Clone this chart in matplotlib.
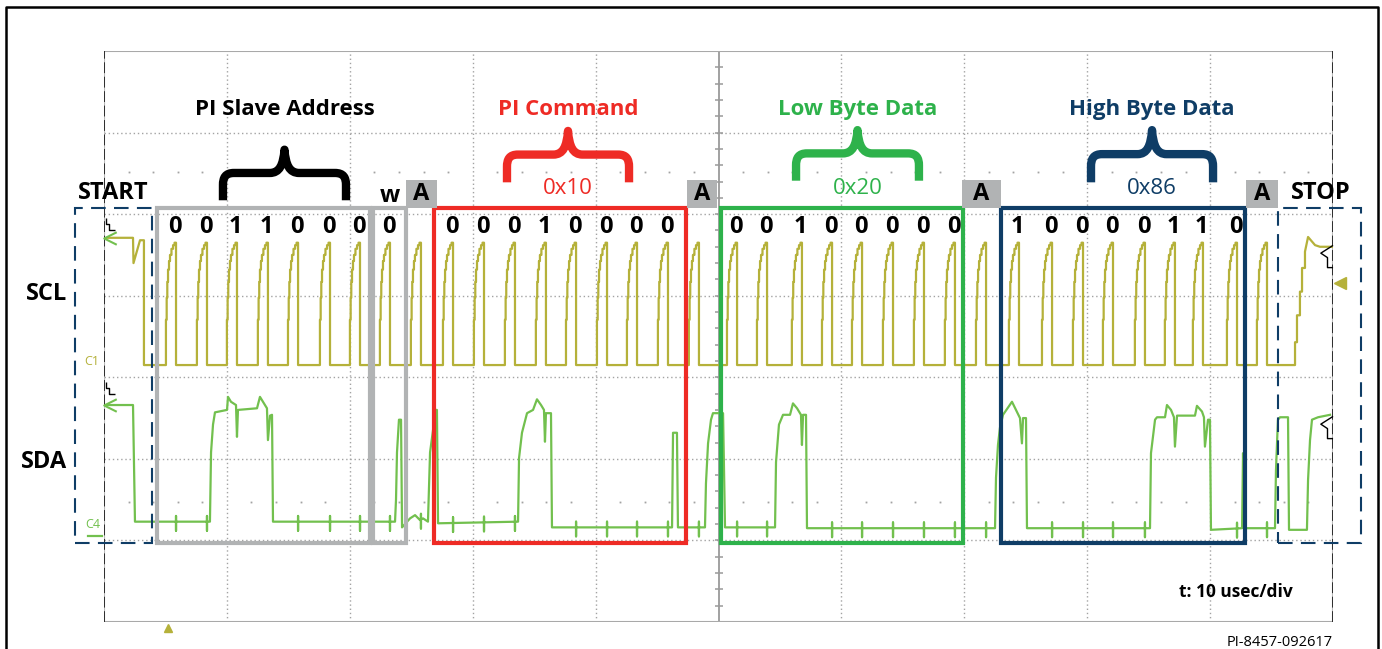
import matplotlib
matplotlib.use("Agg")
import matplotlib.pyplot as plt
import numpy as np
from matplotlib.lines import Line2D
from matplotlib.patches import PathPatch, Rectangle
from matplotlib.path import Path

plt.rcParams["font.family"] = ["Open Sans", "DejaVu Sans"]

# ---------------- data: time in usec (10 usec/div), level in screen divisions ----------------
# SCL falling edges, one per clock (7 addr + W + ACK, then 3 x (8 bits + ACK))
scl_fall_us = [5.86, 8.38, 10.82, 13.34, 15.79, 18.39, 20.83, 23.27, 25.79,
               28.40, 30.92, 33.44, 35.96, 38.41, 40.93, 43.37, 45.89, 48.41,
               51.51, 53.95, 56.79, 59.24, 61.68, 64.20, 66.72, 69.24, 71.77,
               74.45, 77.14, 79.66, 82.10, 84.70, 87.14, 89.42, 92.19, 94.63]
scl_low = 3.15
scl_high = 4.65
# RC staircase of a clock rising edge, relative to its falling edge
pulse_dt = [-0.82, -0.76, -0.71, -0.65, -0.57, -0.49, -0.37, -0.24, -0.12, 0.0]
pulse_frac = [0.37, 0.55, 0.68, 0.78, 0.85, 0.90, 0.95, 0.98, 1.0, 1.0]
# SCL before START and after STOP
scl_head_t = [0.24, 2.36, 2.40, 2.93, 3.17, 3.25, 3.25]
scl_head_v = [4.71, 4.71, 4.40, 4.68, 4.68, 4.68, 3.15]
scl_tail_t = [96.91, 96.91, 97.07, 97.07, 97.31, 97.31, 97.48, 97.48, 97.72, 97.72, 97.97, 98.54, 98.94, 99.92]
scl_tail_v = [3.15, 3.43, 3.43, 3.76, 3.76, 4.05, 4.05, 4.34, 4.34, 4.54, 4.72, 4.62, 4.60, 4.60]

# SDA trace
sda_t = [0.24, 2.36, 2.52,
         8.62, 8.71, 8.87, 9.03, 10.01, 10.09, 10.33, 10.74, 10.82, 10.90, 12.45, 12.69, 13.10, 13.26, 13.34, 13.51, 13.67, 13.75,
         23.68, 23.76, 23.84, 24.00, 24.17, 24.25, 24.90, 25.31, 25.71, 25.96, 26.36, 26.53, 26.77, 27.01, 27.09, 27.18,
         33.69, 33.77, 34.01, 34.42, 34.91, 35.23, 35.56, 35.80, 35.88, 35.96, 36.37, 36.45,
         46.22, 46.30, 46.62, 46.70,
         48.90, 48.98, 49.15, 49.39, 49.55, 50.37, 50.53,
         54.60, 54.68, 54.92, 55.25, 55.82, 56.06, 56.39, 56.71, 56.79, 56.88, 57.12, 57.20,
         72.50, 72.58, 72.74, 72.90, 73.15, 73.88, 74.21, 74.53, 74.69, 74.78, 75.02, 75.10,
         85.11, 85.19, 85.52, 85.68, 86.33, 86.49, 86.82, 87.06, 87.14, 87.31, 88.77, 88.93, 89.34, 89.50, 89.58, 89.83, 89.99, 90.07,
         92.60, 92.68, 92.76,
         95.28, 95.36, 95.52, 95.69, 96.34, 96.42, 97.88, 97.97, 98.13, 98.29, 98.78, 99.76]
sda_v = [2.66, 2.66, 1.23,
         1.23, 2.08, 2.42, 2.57, 2.60, 2.76, 2.70, 2.66, 2.27, 2.60, 2.62, 2.76, 2.66, 2.62, 2.23, 2.53, 2.54, 1.23,
         1.23, 1.50, 2.08, 2.48, 2.48, 1.16, 1.27, 1.31, 1.25, 1.27, 1.23, 2.08, 2.35, 2.60, 2.60, 1.21,
         1.23, 2.01, 2.32, 2.56, 2.60, 2.73, 2.66, 2.60, 2.21, 2.56, 2.56, 1.16,
         1.16, 2.32, 2.32, 1.16,
         1.16, 1.70, 2.19, 2.48, 2.56, 2.56, 1.16,
         1.16, 1.96, 2.42, 2.54, 2.54, 2.68, 2.62, 2.54, 2.17, 2.54, 2.54, 1.15,
         1.15, 1.77, 2.17, 2.38, 2.54, 2.70, 2.60, 2.50, 2.19, 2.50, 2.50, 1.15,
         1.15, 2.07, 2.48, 2.51, 2.51, 2.66, 2.60, 2.51, 2.15, 2.53, 2.53, 2.65, 2.58, 2.51, 2.15, 2.48, 2.48, 1.13,
         1.15, 2.07, 1.15,
         1.15, 1.86, 2.48, 2.51, 2.51, 1.13, 1.13, 1.74, 2.23, 2.48, 2.51, 2.54]

# decoded bits
bit_groups = ["0011000", "0", "00010000", "00100000", "10000110"]
bit_first_clock = [0, 7, 9, 18, 27]

# frames around the fields
frame_t0 = [4.31, 21.89, 26.85, 50.20, 72.99]
frame_t1 = [21.64, 24.57, 47.36, 69.89, 92.84]
frame_colors = ["#b1b3b4", "#b1b3b4", "#ee2b25", "#2eb24b", "#0f3d66"]
frame_bottom, frame_top = 0.97, 5.08

ack_t0 = [24.57, 47.44, 69.81, 92.92]
ack_t1 = [27.09, 49.88, 72.99, 95.52]

start_box = (-2.36, 3.91)
stop_box = (95.52, 102.28)

headers = ["PI Slave Address", "PI Command", "Low Byte Data", "High Byte Data"]
header_colors = ["#000000", "#ee2b25", "#2eb24b", "#0f3d66"]
hex_values = ["", "0x10", "0x20", "0x86"]
brace_t0 = [9.68, 32.79, 56.31, 80.31]
brace_t1 = [19.69, 42.72, 66.31, 90.24]
brace_apex = [5.79, 6.02, 6.03, 6.03]
brace_end = [5.17, 5.39, 5.41, 5.39]

SCL_COLOR = "#b5b13a"
SDA_COLOR = "#72c04e"
GRID = "#a3a3a3"

fig = plt.figure(figsize=(13.82, 6.49), dpi=100)
ax = fig.add_axes([104 / 1382, 27 / 649, 1229 / 1382, 571 / 649])
ax.set_xlim(0, 100)
ax.set_ylim(0, 7)
ax.axis("off")

# ---------------- scope graticule ----------------
for t in range(10, 100, 10):
    if t != 50:
        ax.axvline(t, color=GRID, lw=1, ls=(0, (1, 2)), zorder=1)
for v in range(1, 7):
    ax.axhline(v, color=GRID, lw=1, ls=(0, (1, 2)), zorder=1)
minor_t = [t for t in np.arange(2, 100, 2) if t % 10 != 0]
for v in (1.47, 5.52):
    ax.plot(minor_t, [v] * len(minor_t), ls="none", marker="s", ms=1.3, color=GRID, mew=0, zorder=1)
ax.axvline(50, color="#9a9a9a", lw=1.3, zorder=1)
ticks_v = np.arange(0.2, 7, 0.2)
ax.plot([50] * len(ticks_v), ticks_v, ls="none", marker="_", ms=6, mew=1.1, color="#9a9a9a", zorder=1)
ax.axhline(7, color="#a9a9a9", lw=1.5, zorder=1)
ax.axhline(0, color="#a9a9a9", lw=1.5, zorder=1)
for t in (0, 100):
    ax.axvline(t, color="#b9b9b9", lw=1.5, zorder=1)
    ax.axvline(t, color="#222222", lw=1.3, ls=(0, (6, 2)), zorder=2)

# ---------------- SCL trace ----------------
scl_t = list(scl_head_t)
scl_v = list(scl_head_v)
for tf in scl_fall_us:
    prev = 0.0
    for dt, fr in zip(pulse_dt, pulse_frac):
        scl_t += [tf + dt, tf + dt]
        scl_v += [scl_low + prev * (scl_high - scl_low), scl_low + fr * (scl_high - scl_low)]
        prev = fr
    scl_t.append(tf)
    scl_v.append(scl_low)
scl_t += scl_tail_t
scl_v += scl_tail_v
ax.plot(scl_t, scl_v, color=SCL_COLOR, lw=1.6, zorder=3)

# ---------------- SDA trace (with clock crosstalk spikes) ----------------
st = list(sda_t)
sv = list(sda_v)
for tf in scl_fall_us:
    base = np.interp(tf, sda_t, sda_v)
    if base < 1.4:
        st += [tf, tf, tf, tf]
        sv += [base, base + 0.07, base - 0.11, base]
order = np.argsort(st, kind="stable")
ax.plot(np.array(st)[order], np.array(sv)[order], color=SDA_COLOR, lw=1.6, zorder=3)

# ---------------- frames ----------------
for t0, t1, c in zip(frame_t0, frame_t1, frame_colors):
    ax.add_patch(Rectangle((t0, frame_bottom), t1 - t0, frame_top - frame_bottom, fill=False,
                           ec=c, lw=3, joinstyle="miter", zorder=5, clip_on=False))
for t0, t1 in (start_box, stop_box):
    ax.add_patch(Rectangle((t0, frame_bottom), t1 - t0, frame_top - frame_bottom, fill=False,
                           ec="#0f3d66", lw=1.5, ls=(0, (7, 4)), zorder=5, clip_on=False))
for t0, t1 in zip(ack_t0, ack_t1):
    ax.add_patch(Rectangle((t0, frame_top), t1 - t0, 0.34, fc="#b1b3b4", ec="none", zorder=5, clip_on=False))
    ax.text((t0 + t1) / 2, frame_top + 0.17, "A", ha="center", va="center", fontsize=17,
            fontweight="bold", color="black", zorder=6)

# ---------------- bit labels ----------------
for bits, first in zip(bit_groups, bit_first_clock):
    for i, b in enumerate(bits):
        ax.text(scl_fall_us[first + i] - 0.1, 4.84, b, ha="center", va="center", fontsize=17,
                fontweight="bold", color="black", zorder=6)
ax.text(scl_fall_us[7], 5.22, "w", ha="center", va="center", fontsize=17, fontweight="bold", zorder=6)


# ---------------- braces and headers ----------------
def brace(t0, t1, v_end, v_apex, color):
    u = [0, 0, 0, 0.02, 0.09, 0.38, 0.46, 0.49, 0.5, 0.51, 0.54, 0.62, 0.91, 0.98, 1, 1, 1]
    w = [0, 0.3, 0.45, 0.54, 0.54, 0.54, 0.54, 0.7, 1.0, 0.7, 0.54, 0.54, 0.54, 0.54, 0.45, 0.3, 0]
    codes = [Path.MOVETO, Path.LINETO, Path.CURVE4, Path.CURVE4, Path.CURVE4, Path.LINETO,
             Path.CURVE4, Path.CURVE4, Path.CURVE4, Path.CURVE4, Path.CURVE4, Path.CURVE4,
             Path.LINETO, Path.CURVE4, Path.CURVE4, Path.CURVE4, Path.LINETO]
    verts = [(t0 + a * (t1 - t0), v_end + b * (v_apex - v_end)) for a, b in zip(u, w)]
    ax.add_patch(PathPatch(Path(verts, codes), fill=False, ec=color, lw=6,
                           capstyle="butt", joinstyle="round", zorder=6))


for name, c, hx, t0, t1, va, ve in zip(headers, header_colors, hex_values, brace_t0, brace_t1,
                                        brace_apex, brace_end):
    tc = (t0 + t1) / 2
    brace(t0, t1, ve, va, c)
    ax.text(tc, 6.28, name, ha="center", va="center", fontsize=16, fontweight="bold", color=c, zorder=6)
    if hx:
        ax.text(tc, 5.32, hx, ha="center", va="center", fontsize=16, color=c, zorder=6)

# ---------------- side labels ----------------
ax.text(0.73, 5.26, "START", ha="center", va="center", fontsize=17, fontweight="bold", clip_on=False, zorder=6)
ax.text(99.02, 5.26, "STOP", ha="center", va="center", fontsize=17, fontweight="bold", clip_on=False, zorder=6)
ax.text(-4.64, 4.02, "SCL", ha="center", va="center", fontsize=17, fontweight="bold", clip_on=False)
ax.text(-4.88, 1.96, "SDA", ha="center", va="center", fontsize=17, fontweight="bold", clip_on=False)
ax.text(-0.98, 3.19, "C1", ha="center", va="center", fontsize=9, color=SCL_COLOR, clip_on=False)
ax.text(-0.9, 1.19, "C4", ha="center", va="center", fontsize=9, color=SDA_COLOR, clip_on=False)
ax.plot([-1.3, -0.16], [1.05, 1.05], color=SDA_COLOR, lw=1.6, clip_on=False)
ax.text(92.1, 0.37, "t: 10 usec/div", ha="center", va="center", fontsize=12.5, fontweight="bold")
ax.text(100, -0.25, "PI-8457-092617", ha="right", va="center", fontsize=10.5, clip_on=False)

# ---------------- scope markers ----------------
ax.plot([5.21], [-0.07], marker="^", ms=6, color=SCL_COLOR, clip_on=False)
ax.plot([100.55], [4.16], marker="<", ms=9, color=SCL_COLOR, clip_on=False)
chevron = [(1, 1), (-1, 0), (1, -1)]
for v in (4.71, 2.66):
    ax.plot([0.45], [v], marker=chevron, ms=9, mfc="none", mec=SDA_COLOR, mew=1.5, clip_on=False, zorder=4)
zig_left = [(-0.5, 1), (-0.5, 0.2), (-0.1, 0.2), (-0.1, -0.5), (0.6, -0.5)]
zig_right = [(0.5, 1), (-0.6, 0.3), (0.0, -0.1), (0.0, -1), (0.5, -1)]
for v in (4.85, 2.84):
    ax.plot([0.5], [v], marker=zig_left, ms=11, mfc="none", mec="black", mew=1.0, clip_on=False, zorder=4)
for v in (4.49, 2.39):
    ax.plot([99.5], [v], marker=zig_right, ms=16, mfc="none", mec="black", mew=1.0, clip_on=False, zorder=4)

# ---------------- outer frame ----------------
fig.add_artist(Line2D([6 / 1382, 6 / 1382, 1378 / 1382, 1378 / 1382], [0, 1 - 7 / 649, 1 - 7 / 649, 0],
                      transform=fig.transFigure, color="black", lw=1.8))

fig.savefig("out.png", dpi=100)
